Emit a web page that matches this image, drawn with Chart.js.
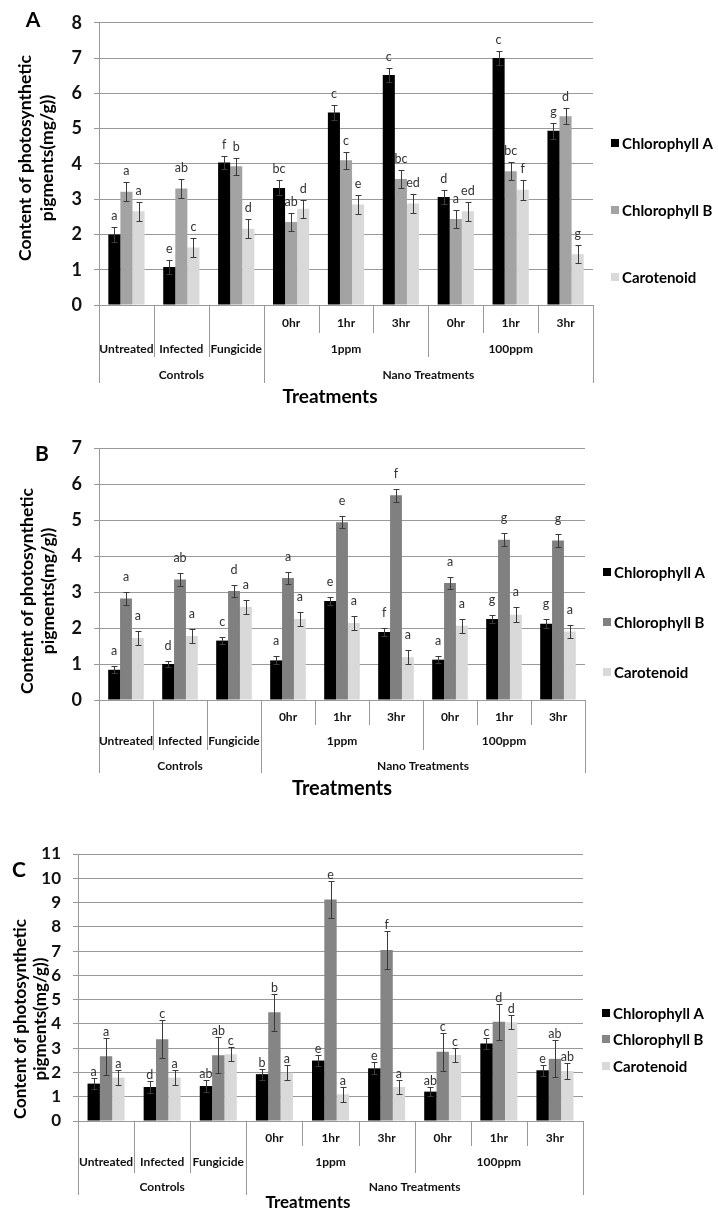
<!DOCTYPE html>
<html><head><meta charset="utf-8">
<script src="https://cdn.jsdelivr.net/npm/chart.js@4.4.1/dist/chart.umd.min.js"></script>
<style>
html,body{margin:0;padding:0;background:#fff;}
#wrap{position:relative;width:718px;height:1218px;overflow:hidden;background:#fff;}
canvas{position:absolute;left:0;}
</style></head><body>
<div id="wrap">
<canvas id="cA" width="718" height="420" style="top:0px;width:718px;height:420px"></canvas>
<canvas id="cB" width="718" height="392" style="top:420px;width:718px;height:392px"></canvas>
<canvas id="cC" width="718" height="406" style="top:812px;width:718px;height:406px"></canvas>
</div>
<script>
// ---------- data ----------
const categories = ["Untreated","Infected","Fungicide","1ppm 0hr","1ppm 1hr","1ppm 3hr","100ppm 0hr","100ppm 1hr","100ppm 3hr"];
const row1Labels = ["","","","0hr","1hr","3hr","0hr","1hr","3hr"];
const row2Groups = [["Untreated",1],["Infected",1],["Fungicide",1],["1ppm",3],["100ppm",3]];
const row3Groups = [["Controls",3],["Nano Treatments",6]];
const seriesNames = ["Chlorophyll A","Chlorophyll B","Carotenoid"];
const yTitleLines = ["Content of photosynthetic","pigments(mg/g))"];
const xTitle = "Treatments";
const panelNames = ["A","B","C"];
const yMax = [8, 7, 11];

// Panel A
const aChlA = [2.00, 1.08, 4.04, 3.32, 5.46, 6.52, 3.06, 7.00, 4.94];
const aChlB = [3.21, 3.30, 3.93, 2.35, 4.10, 3.57, 2.44, 3.79, 5.35];
const aCar  = [2.66, 1.63, 2.16, 2.73, 2.85, 2.88, 2.66, 3.27, 1.44];
const aErrA = [0.20, 0.19, 0.19, 0.21, 0.21, 0.20, 0.20, 0.20, 0.22];
const aErrB = [0.27, 0.27, 0.24, 0.25, 0.25, 0.26, 0.25, 0.26, 0.23];
const aErrC = [0.27, 0.26, 0.27, 0.26, 0.26, 0.27, 0.27, 0.28, 0.26];
const aLetA = ["a","e","f","bc","c","c","d","c","g"];
const aLetB = ["a","ab","b","ab","c","bc","a","bc","d"];
const aLetC = ["a","c","d","d","e","ed","ed","f","g"];

// Panel B
const bChlA = [0.84, 1.00, 1.65, 1.10, 2.75, 1.89, 1.12, 2.25, 2.12];
const bChlB = [2.82, 3.35, 3.03, 3.39, 4.94, 5.69, 3.25, 4.45, 4.43];
const bCar  = [1.72, 1.78, 2.59, 2.25, 2.14, 1.19, 2.06, 2.37, 1.90];
const bErrA = [0.10, 0.09, 0.10, 0.11, 0.10, 0.10, 0.10, 0.10, 0.12];
const bErrB = [0.17, 0.17, 0.16, 0.17, 0.16, 0.18, 0.16, 0.18, 0.17];
const bErrC = [0.19, 0.19, 0.20, 0.19, 0.19, 0.20, 0.20, 0.20, 0.19];
const bLetA = ["a","d","c","a","e","f","a","g","g"];
const bLetB = ["a","ab","d","a","e","f","a","g","g"];
const bLetC = ["a","a","a","a","a","a","a","a","a"];

// Panel C
const cChlA = [1.54, 1.40, 1.44, 1.93, 2.49, 2.17, 1.21, 3.19, 2.09];
const cChlB = [2.67, 3.37, 2.71, 4.48, 9.13, 7.04, 2.85, 4.09, 2.56];
const cCar  = [1.79, 1.79, 2.75, 1.99, 1.10, 1.40, 2.72, 4.07, 2.06];
const cErrA = [0.22, 0.23, 0.23, 0.23, 0.22, 0.25, 0.20, 0.22, 0.22];
const cErrB = [0.77, 0.78, 0.74, 0.77, 0.77, 0.77, 0.77, 0.75, 0.76];
const cErrC = [0.30, 0.30, 0.29, 0.30, 0.30, 0.30, 0.29, 0.29, 0.31];
const cLetA = ["a","d","ab","b","e","e","ab","c","e"];
const cLetB = ["a","c","ab","b","e","f","c","d","ab"];
const cLetC = ["a","a","c","a","a","a","c","d","ab"];

// ---------- styles / layout ----------
const FONT = "Lato, 'Open Sans', sans-serif";
const GRID = "#999999";
Chart.defaults.font.family = FONT;

const panels = [
  { id:"cA", name:panelNames[0], max:yMax[0], vals:[aChlA,aChlB,aCar], errs:[aErrA,aErrB,aErrC], lets:[aLetA,aLetB,aLetC],
    colors:["#000000","#a3a3a3","#d9d9d9"], pad:{top:16,bottom:115,right:125}, yWidth:99, tickSize:18,
    rowY:[18,44,70], lineEnd:[28,52,78], letterGap:12,
    yTitle:{x:[25,47], y:158, size:17.5}, xTitleP:{x:330, y:397, size:19},
    legend:{x:611, y:[143,210,277]}, tag:{x:33,y:20} },
  { id:"cB", name:panelNames[1], max:yMax[1], vals:[bChlA,bChlB,bCar], errs:[bErrA,bErrB,bErrC], lets:[bLetA,bLetB,bLetC],
    colors:["#000000","#808080","#d9d9d9"], pad:{top:28,bottom:112,right:133}, yWidth:99, tickSize:18,
    rowY:[17,41,66], lineEnd:[25,50,73], letterGap:16,
    yTitle:{x:[27,48], y:171, size:17.5}, xTitleP:{x:342, y:369, size:20},
    legend:{x:603, y:[152,202,252]}, tag:{x:42,y:34} },
  { id:"cC", name:panelNames[2], max:yMax[2], vals:[cChlA,cChlB,cCar], errs:[cErrA,cErrB,cErrC], lets:[cLetA,cLetB,cLetC],
    colors:["#000000","#858585","#d9d9d9"], pad:{top:42,bottom:97,right:135}, yWidth:78, tickSize:17,
    rowY:[17,41,66], lineEnd:[25,52,74], letterGap:7,
    yTitle:{x:[21,41], y:207, size:17}, xTitleP:{x:308, y:391, size:17},
    legend:{x:602, y:[201,227,254]}, tag:{x:19,y:58} }
];

function boundaryDepth(k){
  let acc=0; const r3=[0], r2=[0];
  row3Groups.forEach(g=>{acc+=g[1]; r3.push(acc);});
  acc=0; row2Groups.forEach(g=>{acc+=g[1]; r2.push(acc);});
  if (r3.includes(k)) return 3;
  if (r2.includes(k)) return 2;
  return 1;
}

function makeDecor(P){
  return {
    id:"decor"+P.name,
    afterDatasetsDraw(chart){
      const ctx=chart.ctx, y=chart.scales.y;
      ctx.save();
      chart.data.datasets.forEach((ds,d)=>{
        const meta=chart.getDatasetMeta(d);
        meta.data.forEach((bar,i)=>{
          const v=ds.data[i], e=P.errs[d][i];
          const yt=Math.round(y.getPixelForValue(v+e))+0.5;
          const yb=Math.round(y.getPixelForValue(v-e))+0.5;
          const x=Math.round(bar.x)+0.5;
          ctx.strokeStyle="#3a3a3a"; ctx.lineWidth=1;
          ctx.beginPath();
          ctx.moveTo(x,yt); ctx.lineTo(x,yb);
          ctx.moveTo(x-3,yt); ctx.lineTo(x+3,yt);
          ctx.moveTo(x-3,yb); ctx.lineTo(x+3,yb);
          ctx.stroke();
          ctx.fillStyle="#333333";
          ctx.font="12.5px "+FONT;
          ctx.textAlign="center"; ctx.textBaseline="middle";
          ctx.fillText(P.lets[d][i], bar.x, yt-P.letterGap);
        });
      });
      ctx.restore();
    },
    afterDraw(chart){
      const ctx=chart.ctx, ca=chart.chartArea;
      const n=categories.length, w=ca.width/n;
      const edge=k=>ca.left+k*w;
      ctx.save();
      // category dividers
      ctx.strokeStyle=GRID; ctx.lineWidth=1;
      ctx.beginPath();
      for(let k=0;k<=n;k++){
        const dep=boundaryDepth(k);
        const x=Math.round(edge(k))+0.5;
        ctx.moveTo(x, Math.round(ca.bottom));
        ctx.lineTo(x, Math.round(ca.bottom)+P.lineEnd[dep-1]);
      }
      ctx.stroke();
      // category labels
      ctx.fillStyle="#111111";
      ctx.font="bold 12px "+FONT;
      ctx.textAlign="center"; ctx.textBaseline="middle";
      row1Labels.forEach((t,i)=>{ if(t) ctx.fillText(t, edge(i)+w/2, ca.bottom+P.rowY[0]); });
      let s=0;
      row2Groups.forEach(g=>{ ctx.fillText(g[0], edge(s)+g[1]*w/2, ca.bottom+P.rowY[1]); s+=g[1]; });
      s=0;
      row3Groups.forEach(g=>{ ctx.fillText(g[0], edge(s)+g[1]*w/2, ca.bottom+P.rowY[2]); s+=g[1]; });
      // x title
      ctx.fillStyle="#000000";
      ctx.font="bold "+P.xTitleP.size+"px "+FONT;
      ctx.fillText(xTitle, P.xTitleP.x, P.xTitleP.y);
      // y title
      ctx.font="bold "+P.yTitle.size+"px "+FONT;
      yTitleLines.forEach((t,li)=>{
        ctx.save();
        ctx.translate(P.yTitle.x[li], P.yTitle.y);
        ctx.rotate(-Math.PI/2);
        ctx.fillText(t,0,0);
        ctx.restore();
      });
      // panel tag
      ctx.font="bold 21px "+FONT;
      ctx.fillText(P.name, P.tag.x, P.tag.y);
      // legend
      ctx.font="bold 15px "+FONT;
      ctx.textAlign="left";
      chart.data.datasets.forEach((ds,d)=>{
        const yy=P.legend.y[d];
        ctx.fillStyle=ds.backgroundColor;
        ctx.fillRect(P.legend.x, yy-4, 8, 8);
        ctx.fillStyle="#000000";
        ctx.fillText(ds.label, P.legend.x+11, yy+1);
      });
      ctx.restore();
    }
  };
}

panels.forEach(P=>{
  new Chart(document.getElementById(P.id), {
    type:"bar",
    data:{
      labels:categories,
      datasets:seriesNames.map((nm,d)=>({
        label:nm, data:P.vals[d], backgroundColor:P.colors[d], borderWidth:0,
        categoryPercentage:0.66, barPercentage:1.0
      }))
    },
    options:{
      responsive:false, animation:false, devicePixelRatio:1,
      layout:{padding:{left:0, top:P.pad.top, bottom:P.pad.bottom, right:P.pad.right}},
      plugins:{legend:{display:false}, tooltip:{enabled:false}},
      scales:{
        x:{display:false},
        y:{
          min:0, max:P.max,
          afterFit:(s)=>{ s.width=P.yWidth; },
          ticks:{stepSize:1, padding:12, color:"#111111", font:{family:FONT, size:P.tickSize, weight:"bold"}},
          grid:{color:GRID, lineWidth:1, tickLength:5, drawTicks:true},
          border:{display:true, color:GRID, width:1}
        }
      }
    },
    plugins:[makeDecor(P)]
  });
});
</script>
</body></html>
